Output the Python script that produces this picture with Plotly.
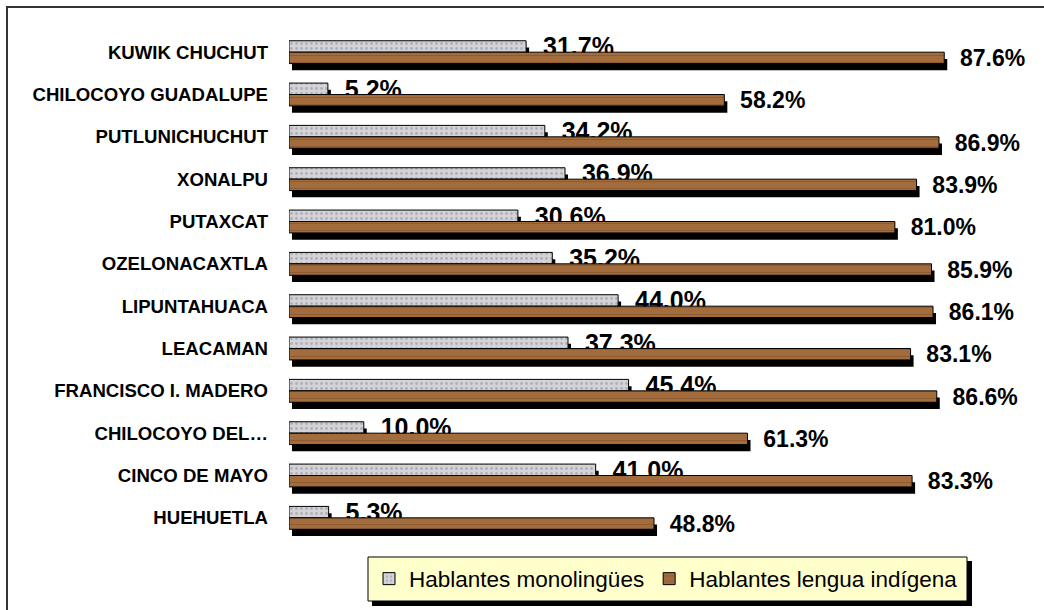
import plotly.graph_objects as go

# data
localidades = [
    "KUWIK CHUCHUT",
    "CHILOCOYO GUADALUPE",
    "PUTLUNICHUCHUT",
    "XONALPU",
    "PUTAXCAT",
    "OZELONACAXTLA",
    "LIPUNTAHUACA",
    "LEACAMAN",
    "FRANCISCO I. MADERO",
    "CHILOCOYO DEL…",
    "CINCO DE MAYO",
    "HUEHUETLA",
]
monolingues = [31.7, 5.2, 34.2, 36.9, 30.6, 35.2, 44.0, 37.3, 45.4, 10.0, 41.0, 5.3]
lengua_indigena = [87.6, 58.2, 86.9, 83.9, 81.0, 85.9, 86.1, 83.1, 86.6, 61.3, 83.3, 48.8]

FONT = "Arial, Liberation Sans, sans-serif"
GRIS = "#d3d3d8"
CAFE = "#a26c3c"

W, H = 1044, 610
M_L, M_R, M_T, M_B = 289, 7, 31, 71


# pixel -> paper helpers
def px_x(p):
    return (p - M_L) / (W - M_L - M_R)


def px_y(p):
    return (H - M_B - p) / (H - M_T - M_B)


BW = 0.27      # bar thickness (category units)
SH_Y = 0.16    # shadow drop
SH_X = 0.4     # shadow shift (x units)

fig = go.Figure()

# shadows
for off in (-BW + SH_Y, SH_Y):
    vals = monolingues if off < 0 else lengua_indigena
    fig.add_trace(go.Bar(
        y=localidades, x=vals, base=SH_X, orientation="h",
        offset=off, width=BW,
        marker=dict(color="black", line=dict(width=0)),
        showlegend=False, hoverinfo="skip",
    ))

# monolingual speakers
fig.add_trace(go.Bar(
    y=localidades, x=monolingues, orientation="h",
    offset=-BW, width=BW,
    name="Hablantes monolingües",
    marker=dict(
        color=GRIS,
        line=dict(color="black", width=1),
        pattern=dict(shape=".", fgcolor="#8c8c94", size=5, solidity=0.25),
    ),
    texttemplate="\u00a0\u00a0%{x:.1f}%",
    textposition="outside",
    textfont=dict(family=FONT, size=25, color="black", weight="bold"),
    constraintext="none",
    cliponaxis=False,
))

# indigenous language speakers
fig.add_trace(go.Bar(
    y=localidades, x=lengua_indigena, orientation="h",
    offset=0, width=BW,
    name="Hablantes lengua indígena",
    marker=dict(
        color=CAFE,
        line=dict(color="black", width=1),
        pattern=dict(shape="-", fgcolor="#7b4b26", size=7, solidity=0.15),
    ),
    texttemplate="\u00a0\u00a0%{x:.1f}%",
    textposition="outside",
    textfont=dict(family=FONT, size=23, color="black", weight="bold"),
    constraintext="none",
    cliponaxis=False,
))

fig.update_xaxes(
    range=[0, 100], visible=False, showgrid=False, zeroline=False,
)
fig.update_yaxes(
    type="category", categoryorder="array", categoryarray=localidades,
    autorange="reversed", showgrid=False, zeroline=False, showline=False,
    ticks="", ticklabelstandoff=20,
    tickfont=dict(family=FONT, size=18.6, color="black", weight="bold"),
)

# chart frame: only top and left edges show in the reference
fig.add_shape(
    type="line", xref="paper", yref="paper", layer="below",
    x0=px_x(6), x1=px_x(1060), y0=px_y(7), y1=px_y(7),
    line=dict(color="#333333", width=2),
)
fig.add_shape(
    type="line", xref="paper", yref="paper", layer="below",
    x0=px_x(7), x1=px_x(7), y0=px_y(6), y1=px_y(630),
    line=dict(color="#333333", width=2),
)

# legend box with shadow
fig.add_shape(
    type="rect", xref="paper", yref="paper",
    x0=px_x(372), x1=px_x(972), y0=px_y(561), y1=px_y(606),
    line=dict(width=0), fillcolor="black",
)
fig.add_shape(
    type="rect", xref="paper", yref="paper",
    x0=px_x(368), x1=px_x(967), y0=px_y(557), y1=px_y(601),
    line=dict(color="black", width=1), fillcolor="#ffffcc",
)

fig.update_layout(
    width=W, height=H,
    barmode="overlay",
    paper_bgcolor="white",
    plot_bgcolor="white",
    margin=dict(l=M_L, r=M_R, t=M_T, b=M_B),
    font=dict(family=FONT, color="black"),
    legend=dict(
        orientation="h",
        x=px_x(369), xanchor="left",
        y=px_y(579), yanchor="middle",
        bgcolor="rgba(0,0,0,0)",
        font=dict(family=FONT, size=22.5, color="black"),
        itemwidth=30,
        traceorder="normal",
    ),
)

fig.write_html(
    "out.html",
    config={"displayModeBar": False},
    post_script="document.body.style.margin='0';",
)
